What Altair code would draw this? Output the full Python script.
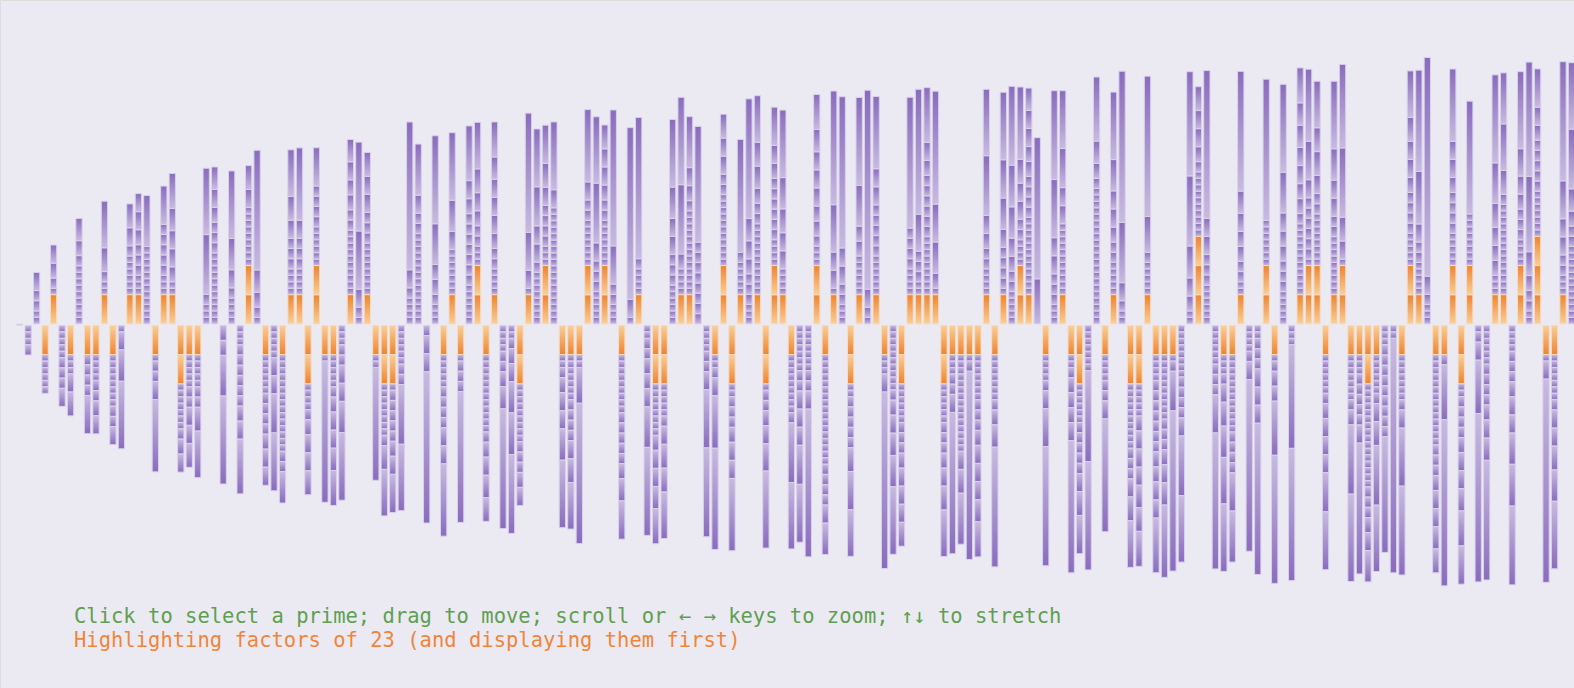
import math
import altair as alt
import pandas as pd

# Ramanujan tau(n), n = 1..184: sign and prime factorisation
TAU = [
    "+", "- 2^3 3", "+ 2^2 3^2 7", "- 2^6 23", "+ 2 3 5 7 23", "- 2^5 3^3 7",
    "- 2^3 7 13 23", "+ 2^9 3 5 11", "- 3^4 23 61", "- 2^4 3^2 5 7 23",
    "+ 2^2 3 13 23 149", "- 2^8 3^2 7 23", "- 2 7 29 1423", "+ 2^6 3 7 13 23",
    "+ 2^3 3^3 5 7^2 23", "+ 2^12 241", "- 2 3^2 7 23 2383", "+ 2^3 3^5 23 61",
    "+ 2^2 5 7^2 11 23 43", "- 2^7 3 5 7 23^2", "- 2^5 3^2 7^2 13 23",
    "- 2^5 3^2 13 23 149", "+ 2^3 3 617 1259", "+ 2^11 3^3 5 7 11", "- 5^2 79 12911",
    "+ 2^4 3 7 29 1423", "- 2^3 3^6 5 7 359", "+ 2^9 7 13 23^2", "+ 2 3 5 11 389111",
    "- 2^6 3^4 5 7^2 23", "- 2^5 7^2 67 503", "- 2^15 3^2 23 29",
    "+ 2^4 3^3 7 13 23 149", "+ 2^4 3^3 7 23 2383", "- 2^4 3 5 7^2 13 23^2",
    "+ 2^6 3^4 23^2 61", "- 2 23 3961159", "- 2^5 3 5 7^2 11 23 43",
    "- 2^3 3^2 7^2 29 1423", "+ 2^10 3^2 5^2 7 11 23", "+ 2 3 7 521 14081",
    "+ 2^8 3^3 7^2 13 23", "- 2^2 23 186149", "- 2^8 3 13 23^2 149",
    "- 2 3^5 5 7 23^2 61", "- 2^6 3^2 617 1259",
    "+ 2^4 3 7 7998061", "+ 2^14 3^2 7 241", "- 3 7^2 11543981", "+ 2^3 3 5^2 79 12911",
    "- 2^5 3^4 7^2 23 2383", "+ 2^7 7 23 29 1423", "- 2 3^3 23 1285069",
    "+ 2^6 3^7 5 7 359", "+ 2^3 3^2 5 7 13 23^2 149", "- 2^12 3 5 7 11 13 23",
    "+ 2^4 3^2 5 7^3 11 23 43", "- 2^4 3^2 5 11 389111", "- 2^2 3 5 7 29 89 4787",
    "- 2^9 3^3 5 7 23^2", "+ 2 7 23 59 366169", "+ 2^8 3 7^2 67 503",
    "+ 2^3 3^4 7 13 23^2 61", "+ 2^18 7 1471", "- 2^2 3 5 7^2 23 29 1423",
    "- 2^7 3^4 7 13 23 149", "- 2^2 23 47 3580441", "+ 2^7 3^2 7 23^2 2383",
    "+ 2^5 3^3 7 617 1259", "+ 2^7 3^2 5 7^2 13 23^2", "+ 2^3 3^2 61 2229391",
    "- 2^9 3^5 5 11 23 61", "+ 2 7 104556523", "+ 2^4 3 23 3961159",
    "- 2^2 3^2 5^2 7 79 12911", "- 2^8 5 7^2 11 23^2 43", "- 2^5 3 7 13^2 23^2 149",
    "+ 2^6 3^3 7^2 29 1423", "+ 2^4 5 23 1721 12037", "+ 2^13 3 5 7 23 241",
    "+ 3^8 253801", "- 2^4 3^2 7 521 14081", "- 2^2 3 7 23 283 53653",
    "+ 2^11 3^2 7^2 13 23^2", "- 2^2 3^3 5 7^2 23^2 2383", "+ 2^5 3 23 186149",
    "+ 2^3 3^3 5 7 11 389111", "+ 2^11 3^2 5 11 13 23 149", "- 2 3^2 5 7 19 23^2 3947",
    "+ 2^4 3^6 5 7 23^2 61", "+ 2^4 7^2 13 23 29 1423", "- 2^9 3 23 617 1259",
    "- 2^7 3^2 7^3 67 503", "- 2^7 3^2 7 7998061", "+ 2^3 3 5^2 7^3 11 23^2 43",
    "- 2^17 3^4 7 23 29", "+ 2 7^2 23 163 204173", "+ 2^3 3^2 7^2 11543981",
    "- 2^2 3^5 13 23^2 61 149", "+ 2^6 5^2 23 79 12911", "+ 2 3 7 1946260931",
    "+ 2^6 3^5 7^2 23 2383", "- 2^3 7 23 175275721", "- 2^10 3 5 7 11 29 1423",
    "- 2^6 3^3 5 7^3 13 23^2", "+ 2^4 3^4 23 1285069", "+ 2^2 3^3 23 53 685453",
    "+ 2^9 3^6 5 7 23 359", "+ 2 5 23 29 59 186727", "- 2^6 3^3 5 7 13 23^2 149",
    "- 2^3 3^2 7 23 3961159", "- 2^15 7 13 23 241", "- 2 3 23 617006251",
    "- 2^7 3^3 5 7^3 11 23 43", "+ 2^4 3^2 5 7 23 617 1259", "- 2^7 3 5 11 23 389111",
    "+ 2 3^4 7 23 29 61 1423", "+ 2^5 3^2 5 7 29 89 4787", "+ 2^4 3^2 7^2 13 23^2 2383",
    "+ 2^12 3^4 5^2 7^2 11 23", "+ 127 3923779", "- 2^4 3 7 23 59 366169",
    "+ 2^3 3^3 7^2 521 14081", "+ 2^11 7^2 23 67 503", "- 2^2 3 5^3 7 23 1486547",
    "- 2^6 3^5 7 13 23^2 61", "- 2^7 18049 113717", "+ 2^21 3 5 11 977",
    "- 2^4 3^2 7 23 186149", "+ 2^5 3^2 5 7^2 23 29 1423", "+ 2^2 3 7 659 11408497",
    "- 2^10 3^3 7 13 23^2 149", "- 2^5 5 7^3 11 13 23^2 43", "+ 2^5 3 23 47 3580441",
    "- 2^4 3^7 5^2 7^2 23 359", "- 2^10 3^3 5 7 11 23 2383", "- 2 3 23 71 30332593",
    "- 2^8 3^4 7 617 1259",
    "+ 2^2 5 7 31 1873 73417", "+ 2^10 3 5 7^2 13 23^3", "+ 2^6 3^3 7^2 7998061",
    "- 2^6 3^3 61 2229391", "- 2^3 3 7 13 23 29 149 1423", "- 2^12 3^4 23 61 241",
    "+ 2^2 3^2 5^2 7 11 23 389111", "- 2^4 3 7 104556523", "- 2^2 3^3 7^3 11543981",
    "+ 2^7 23^2 3961159", "- 2 3 5^2 23 337 959389", "+ 2^5 3^3 5^2 7 79 12911",
    "- 2^3 69191 1489441", "+ 2^11 3 5^2 7^2 11^2 23 43", "+ 2 3^6 7 23^2 61 2383",
    "+ 2^8 3^2 7 13^2 23^2 149", "- 2^6 3 5 7^3 23 67 503", "+ 2^9 3^2 7^2 23 29 1423",
    "+ 2 7 13 23^2 1721 7937", "- 2^7 3 5 23 1721 12037", "- 2^3 3^5 7 23 1285069",
    "- 2^16 3^3 5 7 23^2 29", "- 2^6 3 7 13 23 617 1259", "- 2^3 3^9 253801",
    "- 2^2 89458189897", "- 2^7 3 7 23 521 14081", "+ 2^5 3^4 5 7^2 13 23^2 149",
    "+ 2^5 3^2 7 23 283 53653", "+ 2^3 3 7 16397820787", "- 2^14 3^3 5 7^2 11 13 23",
    "- 3 23 367 57591091", "+ 2^5 3^4 5 7^2 23^2 2383", "- 2^2 3^4 5 7^2 11 23^2 43 61",
    "+ 2^8 23^2 186149", "- 2 3 7 311 72759719", "- 2^6 3^4 5 7 11 389111",
    "+ 2^3 5^2 7 13 23 79 12911", "+ 2^14 3 13 23 149 241", "- 2^4 3^3 5 7^2 29 89 4787",
    "+ 2^4 3^3 5 7 19 23^2 3947", "+ 2^2 3^2 5 13 3319 216493", "+ 2^7 3^5 5 7 23^3 61",
    "- 2 7 23 3095572969", "- 2^7 3 7^2 13 23 29 1423", "+ 2^3 3^2 7^2 23 59 366169",
    "+ 2^12 3^2 5 11 617 1259",
]
HIGHLIGHT = 23
LINE1 = "Click to select a prime; drag to move; scroll or \u2190 \u2192 keys to zoom; \u2191\u2193 to stretch"
LINE2 = "Highlighting factors of 23 (and displaying them first)"

# ---- segments: one rect per prime factor, height = ln(p), highlighted prime first
rows = []
GAP = 0.08
HALF = 0.371
for idx, entry in enumerate(TAU):
    parts = entry.split()
    sign = 1 if parts[0] == "+" else -1
    primes = []
    for tok in parts[1:]:
        if "^" in tok:
            p, e = tok.split("^")
            primes += [int(p)] * int(e)
        else:
            primes.append(int(tok))
    ordered = [p for p in primes if p == HIGHLIGHT] + [p for p in primes if p != HIGHLIGHT]
    if not ordered:
        rows.append({"x0": idx - HALF, "x1": idx + HALF, "y0": -GAP, "y1": GAP, "kind": "unit"})
        continue
    cum = 0.0
    for p in ordered:
        a, b = cum, cum + math.log(p)
        cum = b
        kind = ("up" if sign > 0 else "dn") + ("o" if p == HIGHLIGHT else "p")
        rows.append({
            "x0": idx - HALF, "x1": idx + HALF,
            "y0": sign * (GAP + a), "y1": sign * (GAP + b), "kind": kind,
        })
df = pd.DataFrame(rows)

W, H = 1574, 688
PXX = 8.48
X0 = 19.65
PXY = 9.3
YC = 324.65
xs = alt.Scale(domain=[-X0 / PXX, (W - X0) / PXX], range=[0, W], nice=False, zero=False)
ys = alt.Scale(domain=[-(H - YC) / PXY, YC / PXY], range=[H, 0], nice=False, zero=False)

PD, PL = "#8a6cbd", "#c7bbe0"
OD, OL = "#ee8430", "#f9cf99"


def grad(c_top, c_bot):
    return alt.LinearGradient(
        gradient="linear",
        stops=[alt.GradientStop(color=c_top, offset=0), alt.GradientStop(color=c_bot, offset=1)],
        x1=0, x2=0, y1=0, y2=1,
    )


base = alt.Chart(df).encode(
    x=alt.X("x0:Q", scale=xs, axis=None),
    x2="x1:Q",
    y=alt.Y("y0:Q", scale=ys, axis=None),
    y2="y1:Q",
)

fills = {
    "upp": (grad(PD, PL), "#d9d1ec"),
    "upo": (grad(OD, OL), "#f6dcc4"),
    "dnp": (grad(PL, PD), "#d9d1ec"),
    "dno": (grad(OL, OD), "#f6dcc4"),
}
layers = []
for k, (f, s) in fills.items():
    layers.append(
        base.transform_filter(alt.datum.kind == k).mark_rect(fill=f, stroke=s, strokeWidth=1)
    )
layers.append(
    base.transform_filter(alt.datum.kind == "unit").mark_rect(fill="#d3cbe7", stroke="#d9d1ec", strokeWidth=0.5)
)

t1 = alt.Chart(pd.DataFrame({"t": [LINE1]})).mark_text(
    align="left", baseline="alphabetic", font="DejaVu Sans Mono", fontSize=20.5, color="#5e9f50"
).encode(x=alt.value(74), y=alt.value(623), text="t:N")
t2 = alt.Chart(pd.DataFrame({"t": [LINE2]})).mark_text(
    align="left", baseline="alphabetic", font="DejaVu Sans Mono", fontSize=20.5, color="#f0853a"
).encode(x=alt.value(74), y=alt.value(647), text="t:N")

chart = alt.layer(*layers, t1, t2).properties(
    width=W, height=H, autosize=alt.AutoSizeParams(type="none"), padding=0
).configure_view(stroke=None).configure(background="#ebeaf3")

chart.save("out.html", embed_options={"renderer": "svg", "actions": False})
